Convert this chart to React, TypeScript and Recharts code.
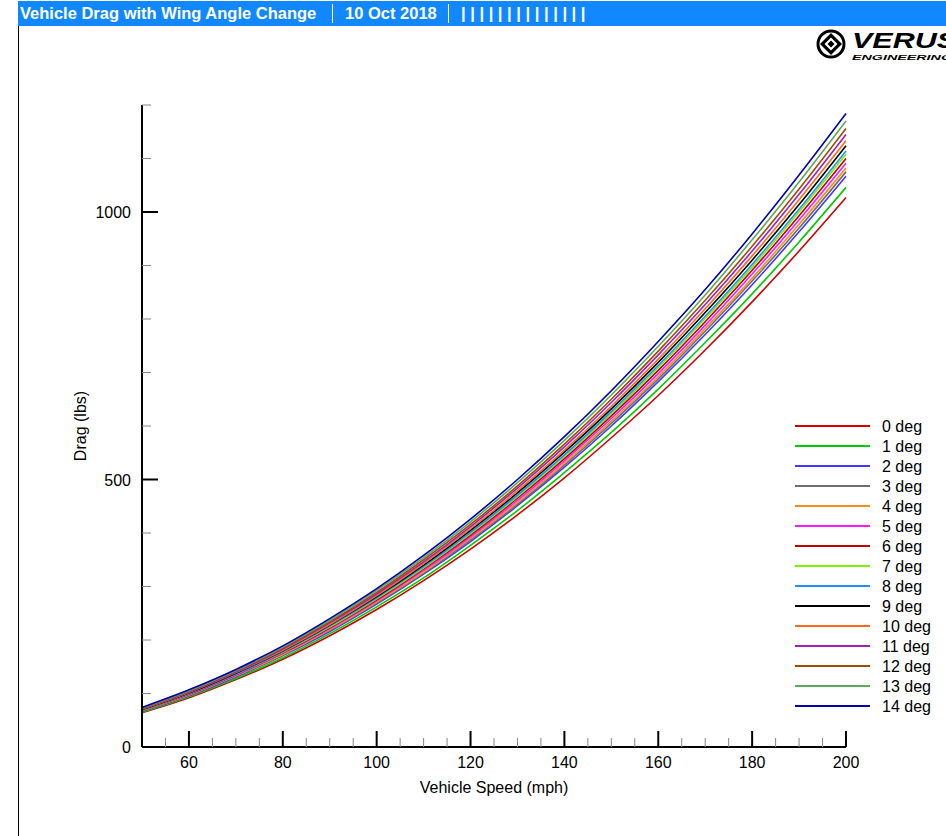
import { LineChart, Line, XAxis, YAxis } from "recharts";

const speeds = [50, 60, 70, 80, 90, 100, 110, 120, 130, 140, 150, 160, 170, 180, 190, 200];

const deg0 = [64, 92, 126, 164, 208, 257, 311, 370, 434, 503, 578, 657, 742, 832, 927, 1027];
const deg1 = [65, 94, 128, 167, 212, 262, 316, 377, 442, 513, 588, 669, 756, 847, 944, 1046];
const deg2 = [67, 96, 131, 171, 216, 267, 323, 384, 451, 523, 600, 683, 771, 864, 963, 1067];
const deg3 = [67, 97, 132, 172, 218, 269, 325, 387, 454, 527, 605, 688, 777, 871, 970, 1075];
const deg4 = [68, 97, 133, 173, 219, 271, 327, 390, 457, 530, 609, 692, 782, 876, 977, 1082];
const deg5 = [68, 98, 134, 175, 221, 273, 330, 393, 461, 535, 614, 698, 788, 884, 985, 1091];
const deg6 = [69, 99, 135, 176, 223, 275, 333, 396, 465, 539, 619, 704, 795, 891, 993, 1100];
const deg7 = [69, 100, 136, 177, 224, 277, 335, 399, 468, 543, 623, 709, 801, 897, 1000, 1108];
const deg8 = [70, 100, 136, 178, 226, 279, 337, 401, 471, 546, 627, 713, 805, 902, 1005, 1114];
const deg9 = [70, 101, 138, 180, 228, 281, 340, 405, 475, 551, 632, 719, 812, 910, 1014, 1124];
const deg10 = [71, 102, 139, 181, 229, 283, 343, 408, 479, 555, 637, 725, 819, 918, 1023, 1133];
const deg11 = [72, 103, 140, 183, 232, 286, 346, 412, 484, 561, 644, 733, 827, 927, 1033, 1145];
const deg12 = [72, 104, 142, 185, 234, 289, 350, 416, 488, 566, 650, 740, 835, 936, 1043, 1156];
const deg13 = [73, 105, 143, 187, 237, 293, 354, 421, 494, 573, 658, 749, 845, 948, 1056, 1170];
const deg14 = [74, 107, 145, 189, 240, 296, 358, 426, 500, 580, 666, 758, 855, 959, 1069, 1184];

const seriesValues = [deg0, deg1, deg2, deg3, deg4, deg5, deg6, deg7, deg8, deg9, deg10, deg11, deg12, deg13, deg14];
const seriesNames = [
  "0 deg", "1 deg", "2 deg", "3 deg", "4 deg", "5 deg", "6 deg", "7 deg",
  "8 deg", "9 deg", "10 deg", "11 deg", "12 deg", "13 deg", "14 deg",
];
const seriesColors = [
  "#d40000", "#00cc00", "#3c3cff", "#6e6e6e", "#ff8c1a", "#ff1aff", "#c00000", "#80f000",
  "#2090ff", "#000000", "#ff6a1a", "#a020c0", "#a04c00", "#5aaa5a", "#0000b0",
];

const xTicks = [55, 60, 65, 70, 75, 80, 85, 90, 95, 100, 105, 110, 115, 120, 125, 130, 135, 140, 145, 150, 155, 160, 165, 170, 175, 180, 185, 190, 195, 200];
const xLabels = [60, 80, 100, 120, 140, 160, 180, 200];
const yTicks = [0, 100, 200, 300, 400, 500, 600, 700, 800, 900, 1000, 1100, 1200];
const yLabels = [0, 500, 1000];

const data = speeds.map((s, i) => {
  const row: Record<string, number> = { speed: s };
  seriesValues.forEach((vals, k) => {
    row["d" + k] = vals[i];
  });
  return row;
});

const FONT = 'Arial, "Liberation Sans", sans-serif';

const XTick = (props: any) => {
  const { x, y, payload } = props;
  const v = payload.value;
  const major = xLabels.includes(v);
  return (
    <g>
      <line
        x1={x}
        y1={y}
        x2={x}
        y2={y - (major ? 16 : 9)}
        stroke={major ? "#000" : "#888"}
        strokeWidth={major ? 2 : 1}
      />
      {major && (
        <text x={x} y={y + 21} textAnchor="middle" fontSize={16} fontFamily={FONT} fill="#000">
          {v}
        </text>
      )}
    </g>
  );
};

const YTick = (props: any) => {
  const { x, y, payload } = props;
  const v = payload.value;
  const major = yLabels.includes(v);
  return (
    <g>
      {v !== 0 && (
        <line
          x1={x}
          y1={y}
          x2={x + (major ? 16 : 9)}
          y2={y}
          stroke={major ? "#000" : "#888"}
          strokeWidth={major ? 2 : 1}
        />
      )}
      {major && (
        <text x={x - 11} y={y + 6} textAnchor="end" fontSize={16} fontFamily={FONT} fill="#000">
          {v}
        </text>
      )}
    </g>
  );
};

const Header = () => (
  <div
    style={{
      position: "absolute",
      left: 18,
      top: 1,
      right: 0,
      height: 25,
      background: "#1188ff",
      color: "#fff",
      fontFamily: FONT,
      fontWeight: "bold",
      fontSize: 16.5,
      lineHeight: "25px",
      whiteSpace: "nowrap",
    }}
  >
    <span style={{ position: "absolute", left: 2 }}>Vehicle Drag with Wing Angle Change</span>
    <div style={{ position: "absolute", left: 314, top: 3, width: 1, height: 19, background: "#fff" }} />
    <span style={{ position: "absolute", left: 327 }}>10 Oct 2018</span>
    <div style={{ position: "absolute", left: 430, top: 3, width: 1, height: 19, background: "#fff" }} />
    <span style={{ position: "absolute", left: 443, letterSpacing: 4.6 }}>||||||||||||||</span>
  </div>
);

const Logo = () => (
  <svg style={{ position: "absolute", left: 812, top: 28 }} width={134} height={36}>
    <circle cx={19} cy={16} r={13} fill="#fff" stroke="#000" strokeWidth={3} />
    <polygon points="19,5 30,16 19,27 8,16" fill="#000" />
    <polygon points="19,9.5 25.5,16 19,22.5 12.5,16" fill="#fff" />
    <polygon points="19,12.5 22.5,16 19,19.5 15.5,16" fill="#000" />
    <text
      x={40}
      y={20}
      fontFamily={FONT}
      fontWeight={900}
      fontStyle="italic"
      fontSize={22}
      textLength={105}
      lengthAdjust="spacingAndGlyphs"
      fill="#000"
    >
      VERUS
    </text>
    <text
      x={40}
      y={32}
      fontFamily={FONT}
      fontWeight={700}
      fontStyle="italic"
      fontSize={7.5}
      textLength={100}
      lengthAdjust="spacingAndGlyphs"
      fill="#000"
    >
      ENGINEERING
    </text>
  </svg>
);

const LegendBox = () => (
  <svg style={{ position: "absolute", left: 790, top: 414 }} width={156} height={305}>
    {seriesNames.map((name, k) => (
      <g key={name}>
        <line x1={5} x2={80} y1={12 + k * 20} y2={12 + k * 20} stroke={seriesColors[k]} strokeWidth={2} />
        <text x={92} y={18 + k * 20} fontSize={16} fontFamily={FONT} fill="#000">
          {name}
        </text>
      </g>
    ))}
  </svg>
);

export default function App() {
  return (
    <div style={{ position: "absolute", left: 0, top: 0, width: 946, height: 836, background: "#fff", overflow: "hidden" }}>
      <div style={{ position: "absolute", left: 18, top: 1, width: 1, height: 835, background: "#000" }} />
      <Header />
      <Logo />
      <div style={{ position: "absolute", left: 0, top: 0 }}>
        <LineChart
          width={946}
          height={836}
          data={data}
          margin={{ top: 105, right: 100, bottom: 29, left: 72 }}
          style={{ fontFamily: FONT }}
        >
          <XAxis
            dataKey="speed"
            type="number"
            domain={[50, 200]}
            ticks={xTicks}
            interval={0}
            height={60}
            tickSize={0}
            tickMargin={0}
            tickLine={false}
            axisLine={{ stroke: "#000", strokeWidth: 2 }}
            tick={<XTick />}
            label={{
              value: "Vehicle Speed (mph)",
              position: "insideBottom",
              offset: 14,
              fontSize: 16,
              fill: "#000",
              fontFamily: FONT,
            }}
          />
          <YAxis
            type="number"
            domain={[0, 1200]}
            ticks={yTicks}
            interval={0}
            width={70}
            tickSize={0}
            tickMargin={0}
            tickLine={false}
            axisLine={{ stroke: "#000", strokeWidth: 2 }}
            tick={<YTick />}
            label={{
              value: "Drag (lbs)",
              angle: -90,
              position: "insideLeft",
              offset: 8,
              fontSize: 16,
              fill: "#000",
              fontFamily: FONT,
              style: { textAnchor: "middle" },
            }}
          />
          {seriesNames.map((name, k) => (
            <Line
              key={name}
              dataKey={"d" + k}
              name={name}
              type="monotone"
              stroke={seriesColors[k]}
              strokeWidth={1.6}
              dot={false}
              activeDot={false}
              isAnimationActive={false}
            />
          ))}
        </LineChart>
      </div>
      <LegendBox />
    </div>
  );
}
